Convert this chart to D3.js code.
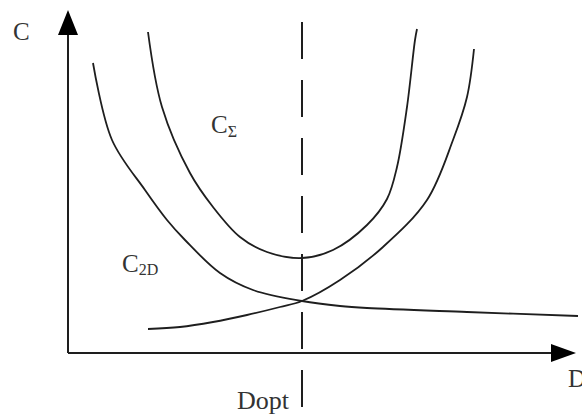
<!DOCTYPE html>
<html>
<head>
<meta charset="utf-8">
<script src="https://cdn.jsdelivr.net/npm/d3@7"></script>
<style>
  body { margin: 0; background: #fff; }
  svg { display: block; }
</style>
</head>
<body>
<div id="chart"></div>
<script>
// curve points, [D, C] in chart units
const cSigma = [[80,321],[94,246],[122,180],[145,146],[172,116],[199,101],[234,95],[265,103],[299,128],[319,154],[329,186],[339,246],[347,313],[349,324]];
const c2D = [[25,290],[44,213],[77,163],[99,133],[117,113],[152,80],[185,63],[234,52],[272,47],[299,45],[399,41],[510,37]];
const cRising = [[80,24],[112,26],[145,31],[179,38],[212,46],[234,52],[272,73],[315,106],[359,153],[385,213],[399,256],[406,304]];
const dOpt = 234;
const dMax = 510, cMax = 340;

const width = 582, height = 414;
const ink = "#1e1e1e", textInk = "#333";

const x = d3.scaleLinear().domain([0, dMax]).range([68, 578]);
const y = d3.scaleLinear().domain([0, cMax]).range([353, 13]);

const svg = d3.select("#chart").append("svg")
    .attr("width", width)
    .attr("height", height)
    .attr("font-family", "'Liberation Serif', 'DejaVu Serif', serif")
    .attr("fill", textInk);

// axes with arrow heads
const x0 = x(0), y0 = y(0);
svg.append("line")
    .attr("x1", x0).attr("y1", y0)
    .attr("x2", x0).attr("y2", 35)
    .attr("stroke", ink).attr("stroke-width", 2);
svg.append("path")
    .attr("d", `M${x0},10 L${x0 - 10},35 L${x0 + 10},35 Z`)
    .attr("fill", "#000");
svg.append("line")
    .attr("x1", x0).attr("y1", y0)
    .attr("x2", 552).attr("y2", y0)
    .attr("stroke", ink).attr("stroke-width", 2);
svg.append("path")
    .attr("d", `M576,${y0} L551,${y0 - 9} L551,${y0 + 9} Z`)
    .attr("fill", "#000");

// dashed optimum line
svg.append("line")
    .attr("x1", x(dOpt)).attr("y1", 22)
    .attr("x2", x(dOpt)).attr("y2", height)
    .attr("stroke", ink).attr("stroke-width", 2)
    .attr("stroke-dasharray", "37 21");

const line = d3.line()
    .x(d => x(d[0]))
    .y(d => y(d[1]))
    .curve(d3.curveCatmullRom.alpha(0.5));

[cSigma, c2D, cRising].forEach(series => {
    svg.append("path")
        .datum(series)
        .attr("d", line)
        .attr("fill", "none")
        .attr("stroke", ink)
        .attr("stroke-width", 1.8);
});

// labels
svg.append("text").attr("x", 13).attr("y", 40).attr("font-size", 25).text("C");
svg.append("text").attr("x", 568).attr("y", 387).attr("font-size", 25).text("D");
svg.append("text").attr("x", 237).attr("y", 409).attr("font-size", 26).text("Dopt");

const sig = svg.append("text").attr("x", 211).attr("y", 133).attr("font-size", 25);
sig.append("tspan").text("C");
sig.append("tspan").attr("font-size", 16).attr("dy", 4).text("Σ");

const c2 = svg.append("text").attr("x", 122).attr("y", 272).attr("font-size", 25);
c2.append("tspan").text("C");
c2.append("tspan").attr("font-size", 16).attr("dy", 3).text("2D");
</script>
</body>
</html>
